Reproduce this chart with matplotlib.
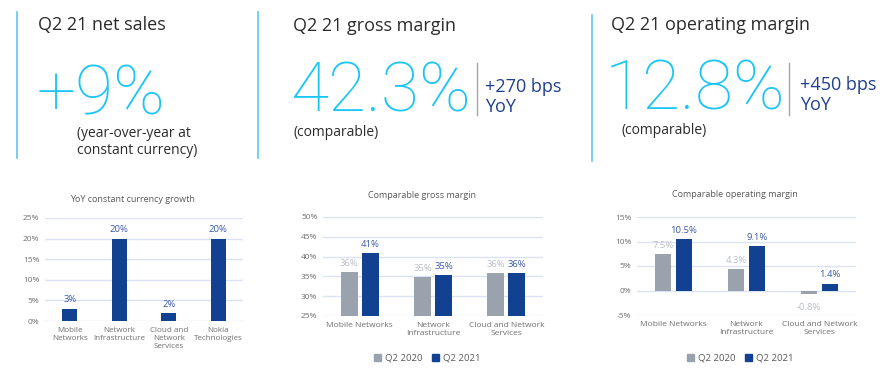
import matplotlib
matplotlib.use('Agg')
import matplotlib.pyplot as plt
from matplotlib.lines import Line2D
from matplotlib.patches import Patch
import numpy as np

plt.rcParams['font.family'] = ['Open Sans', 'DejaVu Sans']

# header KPIs
kpi_titles = ['Q2 21 net sales', 'Q2 21 gross margin', 'Q2 21 operating margin']
kpi_values = ['+9%', '42.3%', '12.8%']
kpi_notes = ['(year-over-year at\nconstant currency)', '(comparable)', '(comparable)']
kpi_changes = ['+270 bps\nYoY', '+450 bps\nYoY']

# YoY growth chart
growth_cats = ['Mobile\nNetworks', 'Network\nInfrastructure', 'Cloud and\nNetwork\nServices', 'Nokia\nTechnologies']
growth_vals = [3, 20, 2, 20]

# margin charts
seg_cats = ['Mobile Networks', 'Network\nInfrastructure', 'Cloud and Network\nServices']
gross_2020 = [36.1, 34.8, 35.9]
gross_2021 = [40.9, 35.3, 35.8]
op_2020 = [7.5, 4.3, -0.8]
op_2021 = [10.5, 9.1, 1.4]
series = ['Q2 2020', 'Q2 2021']

W, H = 892, 370
NAVY = '#124191'
GREY = '#9aa3ad'
CYAN = '#18c5f5'
GRID = '#dbe3f3'
TICK = '#6f6f6f'
DARK = '#2b2b2b'

def fx(x):
    return x / W

def fy(y):
    return 1 - y / H

fig = plt.figure(figsize=(W / 100, H / 100), dpi=100)

# separators
for x, y0, y1 in [(17, 12, 158), (258, 12, 158), (592, 15, 161)]:
    fig.add_artist(Line2D([fx(x), fx(x)], [fy(y0), fy(y1)], color='#5cc8f2', lw=1.2))
for x in [477, 789]:
    fig.add_artist(Line2D([fx(x), fx(x)], [fy(63), fy(115)], color='#a6a6a6', lw=1.0))

# titles
for t, x, y in zip(kpi_titles, [38, 293, 611], [25, 26, 25]):
    fig.text(fx(x), fy(y), t, fontsize=13, color=DARK, va='center', ha='left')

# big numbers
for v, x, y in zip(kpi_values, [37, 290, 605], [115, 112, 110]):
    fig.text(fx(x), fy(y), v, fontsize=50, color=CYAN, va='baseline', ha='left',
             fontweight='light', family=['Roboto', 'DejaVu Sans'])

# notes
fig.text(fx(77), fy(142), kpi_notes[0], fontsize=10, color=DARK, va='center', ha='left',
         linespacing=1.25)
fig.text(fx(293), fy(133), kpi_notes[1], fontsize=10, color=DARK, va='center', ha='left')
fig.text(fx(621), fy(131), kpi_notes[2], fontsize=10, color=DARK, va='center', ha='left')

# bps change
fig.text(fx(485), fy(97), kpi_changes[0], fontsize=13, color='#1f3f8f', va='center',
         ha='left', linespacing=1.1)
fig.text(fx(800), fy(95), kpi_changes[1], fontsize=13, color='#1f3f8f', va='center',
         ha='left', linespacing=1.1)


def style(ax, ticks, fmt='{:.0f}%'):
    for s in ax.spines.values():
        s.set_visible(False)
    ax.set_yticks(ticks)
    ax.set_yticklabels([fmt.format(t) for t in ticks])
    ax.yaxis.grid(True, color=GRID, lw=1.0)
    ax.set_axisbelow(True)
    ax.tick_params(length=0, labelsize=6.0, colors=TICK, pad=4)


# chart 1
ax1 = fig.add_axes([fx(45), fy(321), fx(243) - fx(45), fy(218) - fy(321)])
x1 = np.arange(len(growth_cats))
ax1.bar(x1, growth_vals, width=0.3, color=NAVY)
for x, v in zip(x1, growth_vals):
    ax1.annotate(f'{v}%', (x, v), xytext=(0, 3), textcoords='offset points',
                 ha='center', va='bottom', fontsize=6.8, color='#3a5aa8')
ax1.set_xlim(-0.5, 3.5)
ax1.set_ylim(0, 25)
style(ax1, [0, 5, 10, 15, 20, 25])
ax1.set_xticks(x1)
ax1.set_xticklabels(growth_cats, linespacing=1.2, fontsize=5.8)
ax1.tick_params(axis='x', pad=4)
fig.text(fx(132), fy(200), 'YoY constant currency growth', fontsize=6.5, color='#595959',
         ha='center', va='center')


def grouped(ax, a, b, lo, hi, ticks, title, tx, ty, legx):
    x = np.arange(len(seg_cats))
    dec = 1 if lo < 0 else 0
    ax.bar(x - 0.143, a, width=0.23, color=GREY)
    ax.bar(x + 0.143, b, width=0.23, color=NAVY)
    for xi, v in zip(x, a):
        if v >= 0:
            ax.annotate(f'{v:.{dec}f}%', (xi - 0.143, v), xytext=(0, 3),
                        textcoords='offset points', ha='center', va='bottom',
                        fontsize=6.8, color='#b8bec6')
        else:
            ax.annotate(f'{v:.1f}%', (xi - 0.143, v), xytext=(0, -6),
                        textcoords='offset points', ha='center', va='top',
                        fontsize=6.8, color='#b8bec6')
    for xi, v in zip(x, b):
        ax.annotate(f'{v:.{dec}f}%', (xi + 0.143, v), xytext=(0, 3),
                    textcoords='offset points', ha='center', va='bottom',
                    fontsize=6.8, color='#3a5aa8')
    ax.set_xlim(-0.5, 2.5)
    ax.set_ylim(lo, hi)
    style(ax, ticks)
    ax.set_xticks(x)
    ax.set_xticklabels(seg_cats, linespacing=1.2, fontsize=6.0)
    ax.tick_params(axis='x', pad=4)
    fig.text(fx(tx), fy(ty), title, fontsize=6.5, color='#595959', ha='center', va='center')
    handles = [Patch(color=GREY, label=series[0]), Patch(color=NAVY, label=series[1])]
    fig.legend(handles=handles, loc='center', bbox_to_anchor=(fx(legx), fy(358)), ncol=2,
               frameon=False, fontsize=6.8, handlelength=0.75, handleheight=0.75,
               handletextpad=0.4, columnspacing=1.0, labelcolor='#595959')


ax2 = fig.add_axes([fx(323), fy(316), fx(543) - fx(323), fy(217) - fy(316)])
grouped(ax2, gross_2020, gross_2021, 25, 50, [25, 30, 35, 40, 45, 50],
        'Comparable gross margin', 422, 196, 427)

ax3 = fig.add_axes([fx(637), fy(315), fx(856) - fx(637), fy(217) - fy(315)])
grouped(ax3, op_2020, op_2021, -5, 15, [-5, 0, 5, 10, 15],
        'Comparable operating margin', 735, 195, 740)

fig.savefig('out.png', dpi=100)
